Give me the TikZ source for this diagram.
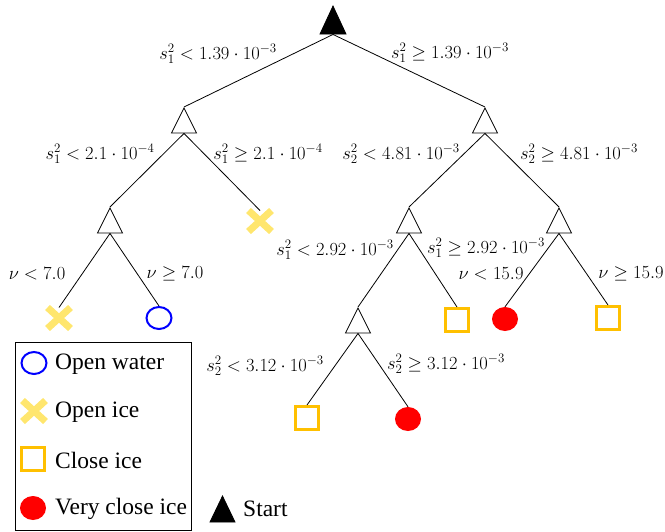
\RequirePackage{fix-cm}
\documentclass[tikz,border=0pt]{standalone}
\usepackage{fontspec}
\setmainfont{Liberation Serif}
\usetikzlibrary{shapes.geometric,shapes.misc}
\definecolor{owblue}{RGB}{0,0,255}
\definecolor{oiyellow}{RGB}{255,230,110}
\definecolor{cigold}{RGB}{255,192,0}
\definecolor{vcred}{RGB}{255,0,0}
\begin{document}
\begin{tikzpicture}[x=1pt,y=-1pt,
  split/.style={isosceles triangle, isosceles triangle stretches, shape border rotate=90,
    minimum width=25pt, minimum height=25pt, inner sep=0pt, draw, line width=0.8pt, fill=white, anchor=north},
  startnode/.style={split, fill=black, minimum width=26pt, minimum height=28pt},
  water/.style={ellipse, draw=owblue, line width=2pt, minimum width=25pt, minimum height=22pt, inner sep=0pt},
  openice/.style={cross out, draw=oiyellow, line width=7pt, minimum width=16pt, minimum height=14pt, inner sep=0pt},
  closeice/.style={rectangle, draw=cigold, line width=2.7pt, minimum size=23.3pt, inner sep=0pt},
  vclose/.style={ellipse, fill=vcred, minimum width=26pt, minimum height=24pt, inner sep=0pt},
  lbl/.style={font=\fontsize{18.5}{22}\selectfont, inner sep=0pt},
  legtxt/.style={font=\fontsize{23.5}{28}\selectfont, anchor=west, inner sep=0pt},
  branch/.style={line width=0.8pt}]
\useasboundingbox (0,0) rectangle (665,531);
% decision nodes
\node[startnode] (root) at (333,5) {};
\node[split] (a) at (184,107) {};
\node[split] (b) at (485,107) {};
\node[split] (c) at (110,207) {};
\node[split] (d) at (409,207) {};
\node[split] (e) at (559,207) {};
\node[split] (f) at (358,307) {};
% leaves
\node[openice] (xA) at (260,221) {};
\node[openice] (xB) at (59,318) {};
\node[water] (wA) at (159,318) {};
\node[closeice] (sqA) at (457,320) {};
\node[vclose] (rA) at (505,319) {};
\node[closeice] (sqB) at (608,318) {};
\node[closeice] (sqC) at (307,418) {};
\node[vclose] (rB) at (408,419) {};
% branches
\draw[branch] (root.south) -- (a.north);
\draw[branch] (root.south) -- (b.north);
\draw[branch] (a.south) -- (c.north);
\draw[branch] (a.south) -- (xA.north);
\draw[branch] (b.south) -- (d.north);
\draw[branch] (b.south) -- (e.north);
\draw[branch] (c.south) -- (xB.north);
\draw[branch] (c.south) -- (wA.north);
\draw[branch] (d.south) -- (f.north);
\draw[branch] (d.south) -- (sqA.north);
\draw[branch] (e.south) -- (rA.north);
\draw[branch] (e.south) -- (sqB.north);
\draw[branch] (f.south) -- (sqC.north);
\draw[branch] (f.south) -- (rB.north);
% labels
\node[lbl] (t1) at (218,54) {$s_1^2 < 1.39\cdot10^{-3}$};
\node[lbl] (t2) at (450,53) {$s_1^2 \geq 1.39\cdot10^{-3}$};
\node[lbl] (t3) at (100,154) {$s_1^2 < 2.1\cdot10^{-4}$};
\node[lbl] (t4) at (268,154) {$s_1^2 \geq 2.1\cdot10^{-4}$};
\node[lbl] (t5) at (401,154) {$s_2^2 < 4.81\cdot10^{-3}$};
\node[lbl] (t6) at (579,154) {$s_2^2 \geq 4.81\cdot10^{-3}$};
\node[lbl] (t7) at (335,250) {$s_1^2 < 2.92\cdot10^{-3}$};
\node[lbl] (t8) at (486,248) {$s_1^2 \geq 2.92\cdot10^{-3}$};
\node[lbl] (t9) at (37,274) {$\nu < 7.0$};
\node[lbl] (t10) at (175,274) {$\nu \geq 7.0$};
\node[lbl] (t11) at (491,274) {$\nu < 15.9$};
\node[lbl] (t12) at (631,274) {$\nu \geq 15.9$};
\node[lbl] (t13) at (265,366) {$s_2^2 < 3.12\cdot10^{-3}$};
\node[lbl] (t14) at (446,364) {$s_2^2 \geq 3.12\cdot10^{-3}$};
% legend
\draw[line width=0.8pt] (15,342) rectangle (191,530.5);
\node[water] (lw) at (34,363) {};
\node[legtxt] (lwt) at (55,364) {Open water};
\node[openice] (li) at (34,411) {};
\node[legtxt] (lit) at (55,412) {Open ice};
\node[closeice] (lc) at (33,459) {};
\node[legtxt] (lct) at (55,460) {Close ice};
\node[vclose] (lv) at (33,508) {};
\node[legtxt] (lvt) at (55,509) {Very close ice};
\node[startnode, minimum width=25pt, minimum height=26pt] (ls) at (222.5,495) {};
\node[legtxt] (lst) at (243,509) {Start};
\end{tikzpicture}
\end{document}
